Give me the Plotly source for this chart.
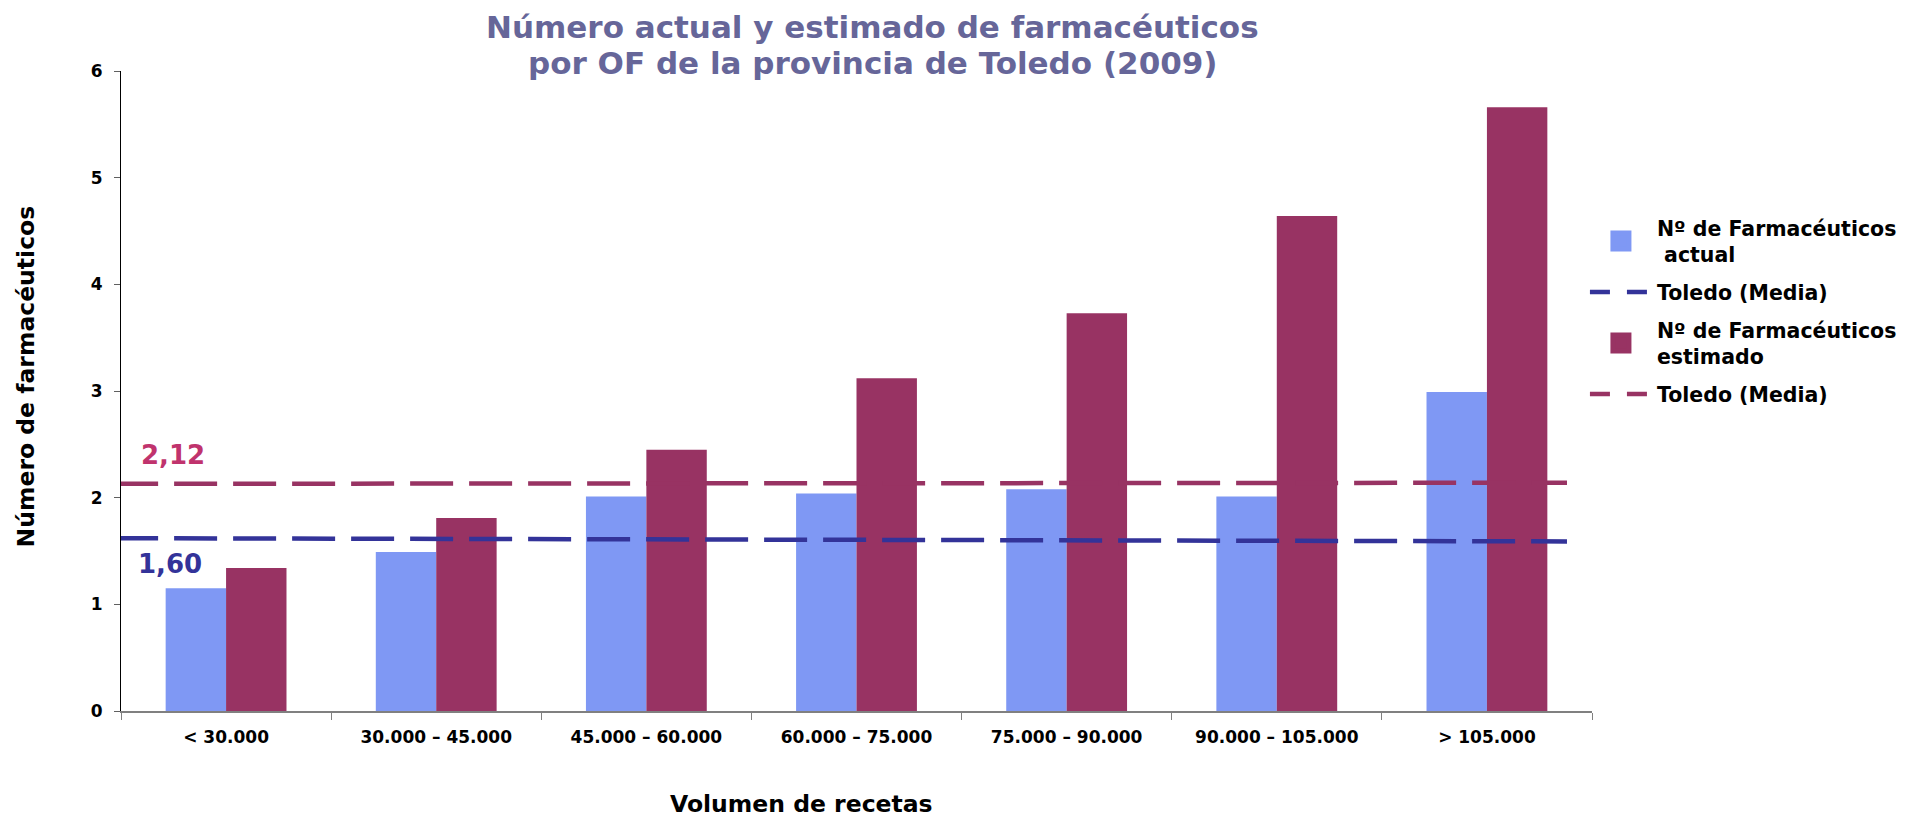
import plotly.graph_objs as go

categories = ['< 30.000', '30.000 – 45.000', '45.000 – 60.000', '60.000 – 75.000',
              '75.000 – 90.000', '90.000 – 105.000', '> 105.000']
farm_actual = [1.15, 1.49, 2.01, 2.04, 2.08, 2.01, 2.99]
farm_estimado = [1.34, 1.81, 2.45, 3.12, 3.73, 4.64, 5.66]

media_actual = 1.60
media_estimado = 2.12
# ends of the drawn mean lines (they are slightly tilted in the source)
media_actual_line = [1.62, 1.59]
media_estimado_line = [2.13, 2.14]

title_lines = ['Número actual y estimado de farmacéuticos',
               'por OF de la provincia de Toledo (2009)']

BLUE_BAR = '#7f98f4'
WINE = '#983363'
NAVY = '#333399'
PINK = '#c0336d'
FONT = 'DejaVu Sans'
LINE_X = [-0.004, 0.983]

# the page body has an 8px margin, so the figure is drawn 8px smaller
W, H = 1913, 810
L, T, PW, PH = 113, 63, 1471, 640


def fmt(v):
    return ('%.2f' % v).replace('.', ',')


def py(fig_y):
    # figure pixel row -> paper y
    return 1 + (T - fig_y) / PH


trace0 = go.Bar(x=categories, y=farm_actual, name='Nº de Farmacéuticos<br> actual',
                marker=dict(color=BLUE_BAR, line=dict(width=0)), showlegend=False)

trace1 = go.Bar(x=categories, y=farm_estimado, name='Nº de Farmacéuticos<br>estimado',
                marker=dict(color=WINE, line=dict(width=0)), showlegend=False)

trace2 = go.Scatter(x=LINE_X, y=media_actual_line, xaxis='x2', mode='lines',
                    line=dict(color=NAVY, width=4.5, dash='43px,16px'), showlegend=False)

trace3 = go.Scatter(x=LINE_X, y=media_estimado_line, xaxis='x2', mode='lines',
                    line=dict(color=WINE, width=4.5, dash='43px,16px'), showlegend=False)

# legend entries
leg0 = go.Scatter(x=[None], y=[None], mode='markers', name='Nº de Farmacéuticos<br> actual',
                  legendgroup='a',
                  marker=dict(symbol='square', size=16, color=BLUE_BAR, line=dict(color=BLUE_BAR, width=5)))
leg1 = go.Scatter(x=[None], y=[None], mode='lines', name='Toledo (Media)', legendgroup='b',
                  line=dict(color=NAVY, width=4.5, dash='20px,17px'))
leg2 = go.Scatter(x=[None], y=[None], mode='markers', name='Nº de Farmacéuticos<br>estimado',
                  legendgroup='c',
                  marker=dict(symbol='square', size=16, color=WINE, line=dict(color=WINE, width=5)))
leg3 = go.Scatter(x=[None], y=[None], mode='lines', name='Toledo (Media)', legendgroup='d',
                  line=dict(color=WINE, width=4.5, dash='20px,17px'))

data = [trace0, trace1, trace2, trace3, leg0, leg1, leg2, leg3]

title_font = dict(family=FONT, size=31, weight='bold', color='#666699')

layout = go.Layout(
    width=W, height=H,
    paper_bgcolor='white', plot_bgcolor='white',
    margin=dict(l=L, r=W - L - PW, t=T, b=H - T - PH),
    font=dict(family=FONT, color='black'),
    barmode='group',
    bargap=0.425,
    bargroupgap=0,
    xaxis=dict(type='category', range=[-0.5, 6.5], showline=True, linecolor='#808080', linewidth=2,
               ticks='outside', tickson='boundaries', ticklen=7, tickcolor='#808080',
               tickfont=dict(family=FONT, size=17, weight='bold'), ticklabelstandoff=10,
               showgrid=False, zeroline=False),
    xaxis2=dict(overlaying='x', range=[0, 1], visible=False),
    yaxis=dict(range=[0, 6], dtick=1, showline=True, linecolor='black', linewidth=1,
               ticks='outside', ticklen=6, tickcolor='#606060',
               tickfont=dict(family=FONT, size=17, weight='bold'), ticklabelstandoff=8,
               showgrid=False, zeroline=False),
    legend=dict(x=0.9952, xanchor='left', y=0.786, yanchor='top',
                font=dict(family=FONT, size=20.5, weight='bold', color='black'),
                itemwidth=62, tracegroupgap=8, bgcolor='rgba(0,0,0,0)'),
    annotations=[
        dict(text=title_lines[0], xref='paper', yref='paper', x=0.5112, y=py(-1.4),
             xanchor='center', yanchor='top', showarrow=False, font=title_font),
        dict(text=title_lines[1], xref='paper', yref='paper', x=0.5112, y=py(35.3),
             xanchor='center', yanchor='top', showarrow=False, font=title_font),
        dict(text='Volumen de recetas', xref='paper', yref='paper', x=0.4623, y=-0.146,
             xanchor='center', yanchor='middle', showarrow=False,
             font=dict(family=FONT, size=23.5, weight='bold')),
        dict(text='Número de farmacéuticos', xref='paper', yref='paper', x=-0.0646, y=0.5227,
             xanchor='center', yanchor='middle', textangle=-90, showarrow=False,
             font=dict(family=FONT, size=23.5, weight='bold')),
        dict(text=fmt(media_estimado), xref='paper', yref='paper', x=0.012, y=0.40 / 6 + 2.0 / 6,
             xanchor='left', yanchor='middle', showarrow=False,
             font=dict(family=FONT, size=26, weight='bold', color=PINK)),
        dict(text=fmt(media_actual), xref='paper', yref='paper', x=0.010, y=1.376 / 6,
             xanchor='left', yanchor='middle', showarrow=False,
             font=dict(family=FONT, size=26, weight='bold', color=NAVY)),
    ]
)

fig = go.Figure(data=data, layout=layout)
fig.write_html('out.html')
